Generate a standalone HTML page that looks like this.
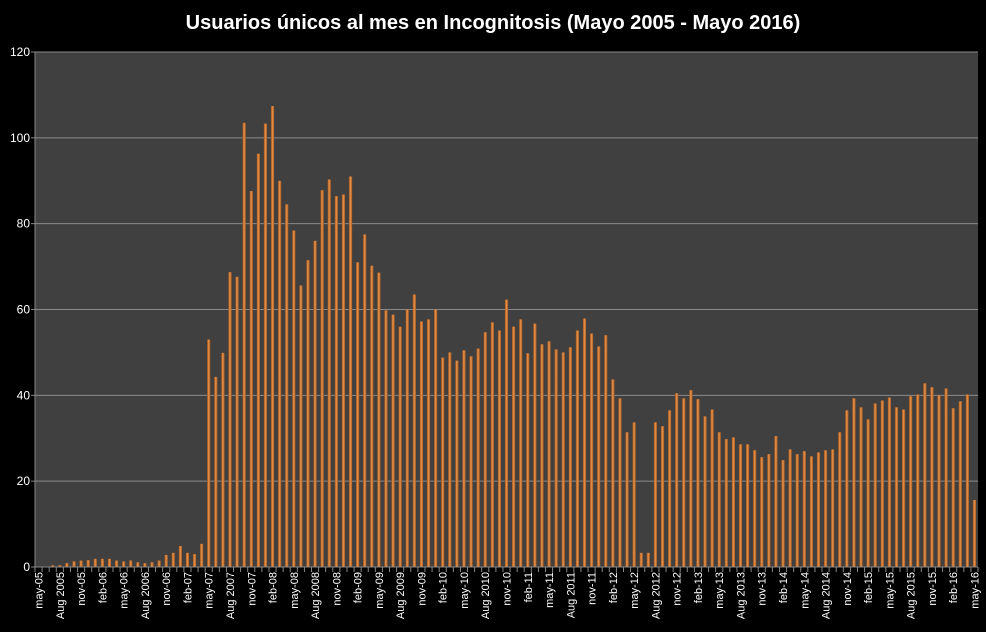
<!DOCTYPE html>
<html><head><meta charset="utf-8"><style>
html,body{margin:0;padding:0;background:#000;}
svg{display:block;font-family:"Liberation Sans",sans-serif;}
</style></head><body>
<svg id="chart" width="986" height="632">
<defs><linearGradient id="bg" x1="0" x2="1" y1="0" y2="0">
<stop offset="0" stop-color="#9a4e16"/><stop offset="0.45" stop-color="#e8954e"/><stop offset="1" stop-color="#a8581b"/></linearGradient></defs>
<rect width="986" height="632" fill="#000"/>
<text x="493" y="29" text-anchor="middle" fill="#fff" font-size="20" font-weight="bold">Usuarios únicos al mes en Incognitosis (Mayo 2005 - Mayo 2016)</text>
<rect x="35" y="52" width="943" height="515" fill="#404040"/>
<g id="grid"></g><g id="bars"></g><g id="axes"></g>
</svg>
<script>
const values = [0,0,0.4,0.4,0.9,1.3,1.5,1.6,1.9,1.9,1.9,1.5,1.3,1.5,1.1,0.9,1.1,1.5,2.8,3.3,4.9,3.3,3.0,5.4,
53,44.3,49.9,68.7,67.6,103.5,87.6,96.3,103.3,107.4,90,84.5,78.4,65.6,71.5,76,87.8,90.3,86.4,86.8,91,71,
77.5,70.2,68.6,59.8,58.8,56,60,63.5,57.2,57.7,60,48.8,50,48.1,50.5,49.1,50.9,54.7,57,55.1,62.3,56,57.7,49.8,56.7,51.9,52.6,50.7,50,51.2,55.1,57.9,54.4,51.4,54,43.7,39.3,31.4,33.7,3.3,3.3,33.7,32.8,36.5,
40.5,39.3,41.2,39.1,35.1,36.7,31.4,29.8,30.2,28.6,28.6,27.2,25.6,26.3,30.5,24.9,27.4,26.3,27,25.8,26.7,27.2,27.4,31.4,36.5,39.3,37.2,34.4,38.1,38.8,39.5,37.2,36.7,39.8,40.2,42.8,41.9,40,41.6,37,38.6,40.2,15.6];
const yTicks = [0,20,40,60,80,100,120];
const monthNames = ["ene","feb","mar","abr","may","jun","jul","Aug","sep","oct","nov","dic"];
const startMonth = 4, startYear = 2005;
const NS="http://www.w3.org/2000/svg";
const X0=35,X1=978,Y0=567,Y1=52,YMAX=120;
const n=values.length, cw=(X1-X0)/n;
const xc=i=>X0+(i+0.5)*cw;
const y=v=>Y0-(v/YMAX)*(Y0-Y1);
function mk(t,a,p){const e=document.createElementNS(NS,t);for(const k in a)e.setAttribute(k,a[k]);p.appendChild(e);return e;}
const grid=document.getElementById('grid'),bars=document.getElementById('bars'),axes=document.getElementById('axes');
yTicks.forEach(t=>{
  if(t>0){const l=mk('line',{x1:X0,x2:X1,y1:y(t),y2:y(t),stroke:'#8a8a8a','stroke-width':1},grid);
  
  }
  const tk=mk('line',{x1:X0-4,x2:X0,y1:y(t),y2:y(t),stroke:'#888'},axes);
  
  
  const tx=mk('text',{x:X0-5,y:y(t)+4,'text-anchor':'end',fill:'#fff','font-size':12},axes);
  tx.textContent=t;
  
  
});
mk('line',{x1:X0,x2:X0,y1:Y1,y2:Y0,stroke:'#888'},axes);
mk('line',{x1:X0,x2:X1,y1:Y0,y2:Y0,stroke:'#888'},axes);
values.forEach((v,i)=>{
  const h=Y0-y(v);
  const r=mk('rect',{x:xc(i)-1.6,y:y(v),width:3.2,height:h,fill:'url(#bg)'},bars);
  
  
});
for(let i=0;i<=n;i++){
  const t=mk('line',{x1:X0+i*cw,x2:X0+i*cw,y1:Y0,y2:Y0+5,stroke:'#888'},axes);
  
  
}
for(let i=0;i<n;i+=3){
  const m=(startMonth+i)%12, yr=startYear+Math.floor((startMonth+i)/12);
  const lab = m===7 ? 'Aug '+yr : monthNames[m]+'-'+String(yr).slice(2);
  const x=xc(i)+4, yy=572;
  const tx=mk('text',{x:x,y:yy,'text-anchor':'end',fill:'#fff','font-size':11,transform:`rotate(-90 ${x} ${yy})`},axes);
  tx.textContent=lab;
  
  
}
</script>
</body></html>
